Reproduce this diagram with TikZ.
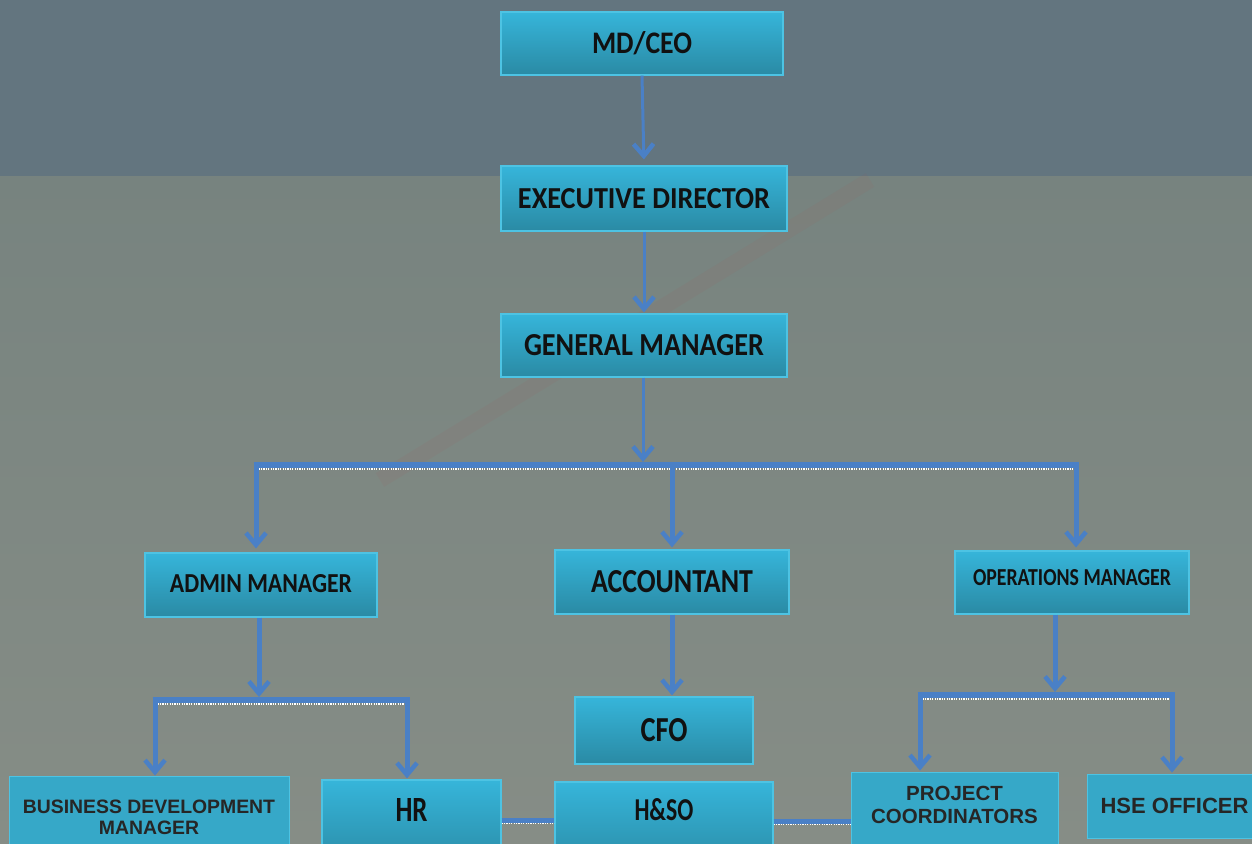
\documentclass[tikz,border=0pt]{standalone}
\usepackage{fontspec}
\setmainfont{Carlito}
\newfontfamily\arialf{Liberation Sans}
\usetikzlibrary{arrows.meta,calc}
\definecolor{topband}{HTML}{63757F}
\definecolor{lowtop}{HTML}{77837F}
\definecolor{lowbot}{HTML}{868D86}
\definecolor{boxtop}{HTML}{36B5DA}
\definecolor{boxbot}{HTML}{2A8AA4}
\definecolor{boxedge}{HTML}{4DC3E3}
\definecolor{flatbox}{HTML}{36A8C8}
\definecolor{conncol}{HTML}{4A80C6}
\definecolor{txtdark}{HTML}{111111}
\newcommand\fitt[3]{\resizebox{#1pt}{#2pt}{\bfseries #3}}
\tikzset{
  gbox/.style={draw=boxedge, line width=1.2pt, top color=boxtop, bottom color=boxbot, inner sep=0pt, text=txtdark},
  fbox/.style={draw=boxedge, line width=0.8pt, fill=flatbox, inner sep=0pt, text=black!85, font=\arialf\bfseries, align=center},
  tip/.style={-{Straight Barb[length=12pt,width=20pt,line width'=4.5pt]}},
  thinarr/.style={conncol, line width=3pt, tip},
  droparr/.style={conncol, line width=5pt, tip},
  busline/.style={conncol, line width=6pt, line cap=butt},
  dotline/.style={white!85, line width=1.8pt, dash pattern=on 1.2pt off 1.2pt}
}
\begin{document}
\begin{tikzpicture}[x=1pt,y=-1pt]
\useasboundingbox (0,0) rectangle (1252,843);
\clip (0,0) rectangle (1252,843);
% background
\fill[topband] (0,0) rectangle (1252,176);
\shade[top color=lowtop, bottom color=lowbot] (0,176) rectangle (1252,843);
\draw[red!40!gray, opacity=0.07, line width=16pt] (380,480) -- (870,180);
% top chain
\node[gbox, minimum width=282, minimum height=63] (ceo) at (642,43.5) {\fitt{100}{22}{MD/CEO}};
\node[gbox, minimum width=286, minimum height=65] (ed) at (644,198.5) {\fitt{252}{20}{EXECUTIVE DIRECTOR}};
\node[gbox, minimum width=286, minimum height=63] (gm) at (644,345.5) {\fitt{240}{21}{GENERAL MANAGER}};
% second row
\node[gbox, minimum width=232, minimum height=64] (admin) at (261,585) {\raisebox{4pt}{\fitt{182}{18}{ADMIN MANAGER}}};
\node[gbox, minimum width=234, minimum height=64] (acc) at (672,582) {\fitt{162}{22}{ACCOUNTANT}};
\node[gbox, minimum width=234, minimum height=63] (ops) at (1072,582.5) {\raisebox{11pt}{\fitt{198}{16}{OPERATIONS MANAGER}}};
% third row
\node[gbox, minimum width=178, minimum height=67] (cfo) at (664,730.5) {\fitt{47}{23}{CFO}};
\node[gbox, minimum width=218, minimum height=90] (hso) at (664,827) {\raisebox{35pt}{\fitt{59}{22}{H\&SO}}};
\node[gbox, minimum width=179, minimum height=90] (hr) at (411.5,825) {\raisebox{31pt}{\fitt{32}{23}{HR}}};
\node[fbox, minimum width=280, minimum height=90, font=\arialf\bfseries\fontsize{19.4}{21}\selectfont] (bdm) at (149,821) {\raisebox{19pt}{\begin{tabular}{@{}c@{}}BUSINESS DEVELOPMENT\\[0pt] MANAGER\end{tabular}}};
\node[fbox, minimum width=207, minimum height=90, font=\arialf\bfseries\fontsize{20.5}{23}\selectfont] (pc) at (954.5,817) {\raisebox{38pt}{\begin{tabular}{@{}c@{}}PROJECT\\[0pt] COORDINATORS\end{tabular}}};
\node[fbox, minimum width=175, minimum height=64, font=\arialf\bfseries\fontsize{22}{26}\selectfont] (hse) at (1174.5,806) {HSE OFFICER};
% connectors top chain
\draw[thinarr, shorten >=6pt] (ceo.south) -- (ed.north);
\draw[thinarr, shorten >=1pt] (ed.south) -- (gm.north);
% GM bus
\coordinate (gmj) at (643,462);
\coordinate (bL) at (256,465);
\coordinate (bR) at (1076,465);
\coordinate (bA) at (672,465);
\draw[thinarr] (gm.south -| gmj) -- (gmj);
\draw[busline] ($(bL)+(-2.5,0)$) -- ($(bR)+(2.5,0)$);
\draw[dotline] ($(bL)+(2.5,4)$) -- ($(bR)+(-2.5,4)$);
\draw[droparr, shorten >=4pt] (bL) -- (bL |- admin.north);
\draw[droparr, shorten >=2pt] (bA) -- (acc.north);
\draw[droparr, shorten >=3pt] (bR) -- (bR |- ops.north);
% admin bus
\coordinate (aj) at (259,697);
\coordinate (aL) at (155,700);
\coordinate (aR) at (407,700);
\draw[droparr] (aj |- admin.south) -- (aj);
\draw[busline] ($(aL)+(-2.5,0)$) -- ($(aR)+(2.5,0)$);
\draw[dotline] ($(aL)+(2.5,4)$) -- ($(aR)+(-2.5,4)$);
\draw[droparr, shorten >=0pt] (aL) -- (aL |- bdm.north);
\draw[droparr, shorten >=1pt] (aR) -- (aR |- hr.north);
% accountant to CFO
\draw[droparr, shorten >=1pt] (acc.south) -- (acc.south |- cfo.north);
% ops bus
\coordinate (oj) at (1055,692);
\coordinate (oL) at (920,695);
\coordinate (oR) at (1172,695);
\draw[droparr] (oj |- ops.south) -- (oj);
\draw[busline] ($(oL)+(-2.5,0)$) -- ($(oR)+(2.5,0)$);
\draw[dotline] ($(oL)+(2.5,4)$) -- ($(oR)+(-2.5,4)$);
\draw[droparr, shorten >=1pt] (oL) -- (oL |- pc.north);
\draw[droparr, shorten >=1pt] (oR) -- (oR |- hse.north);
% bottom links
\coordinate (l1) at (0,820);
\coordinate (l2) at (0,821);
\draw[conncol, line width=5pt] (hr.east |- l1) -- (hso.west |- l1);
\draw[dotline] ($(hr.east |- l1)+(0,3.5)$) -- ($(hso.west |- l1)+(0,3.5)$);
\draw[conncol, line width=5pt] (hso.east |- l2) -- (pc.west |- l2);
\draw[dotline] ($(hso.east |- l2)+(0,3.5)$) -- ($(pc.west |- l2)+(0,3.5)$);
\end{tikzpicture}
\end{document}
